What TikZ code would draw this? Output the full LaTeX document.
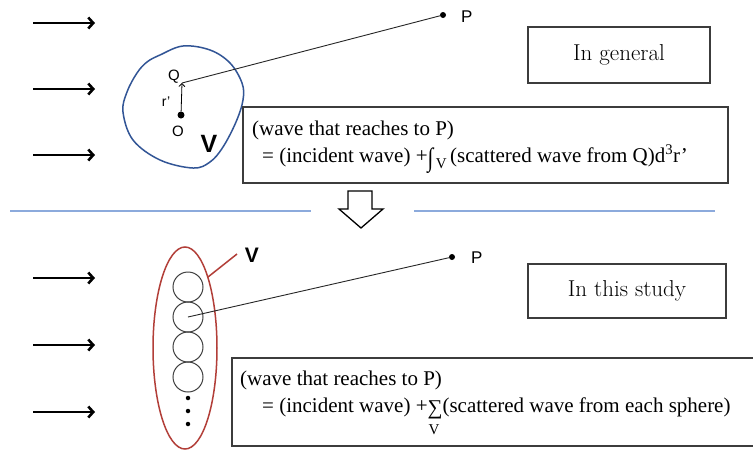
\documentclass[tikz,border=0pt]{standalone}
\usepackage{fontspec}
\usepackage{graphicx}
\newfontfamily\tnr{Liberation Serif}
\newfontfamily\arl{Liberation Sans}
\usetikzlibrary{arrows.meta}
\definecolor{blobblue}{RGB}{50,85,150}
\definecolor{ellred}{RGB}{178,62,56}
\definecolor{seplight}{RGB}{140,170,220}
\definecolor{boxgray}{RGB}{60,60,60}
\tikzset{
  inarrow/.style={line width=2.2pt,-{Straight Barb[length=5pt,width=11pt,line width=2.6pt]}},
  framebox/.style={draw=boxgray,line width=1.2pt,fill=white},
  labelbox/.style={framebox,font=\fontsize{23}{27}\selectfont,inner sep=0pt},
  formula/.style={font=\tnr\fontsize{21}{25}\selectfont,anchor=base west,inner sep=0pt},
  sanslbl/.style={font=\arl\fontsize{15}{18}\selectfont,inner sep=0pt},
  pdot/.style={circle,fill=black,inner sep=0pt,minimum size=6pt},
  sphere/.style={circle,draw=black!75,line width=1pt,minimum size=30pt,inner sep=0pt},
  ray/.style={line width=0.9pt,black!85}
}
\begin{document}
\begin{tikzpicture}[x=1pt,y=-1pt]
\clip (0,0) rectangle (753,451);
\fill[white] (0,0) rectangle (753,451);

% incoming arrows
\foreach \i/\y in {1/23,2/89,3/155,4/278,5/345,6/412}{
  \coordinate (as\i) at (33,\y);
  \coordinate (ae\i) at (95,\y);
  \draw[inarrow] (as\i) -- (ae\i);
}

% ---------- top part ----------
\draw[blobblue,line width=1.5pt] plot[smooth cycle,tension=0.6] coordinates {
 (160,55) (183,46) (210,50) (230,63) (242,83) (243,100) (236,122)
 (223,147) (210,162) (193,168) (160,160) (133,140) (123,112) (127,92) (137,73) (147,62)};

\node[pdot] (P1) at (443,15) {};
\node[sanslbl,font=\arl\fontsize{17}{20}\selectfont,anchor=west] (P1l) at (461,17) {P};
\coordinate (Q) at (182,83);
\node[pdot,minimum size=7pt] (O) at (181,115) {};
\draw[ray] (Q) -- (P1);
\draw[line width=0.8pt,-{Straight Barb[length=3pt,width=6pt]}] (O) -- (Q);
\node[sanslbl] (Ql) at (174,77) {Q};
\node[sanslbl,font=\arl\fontsize{14}{16}\selectfont] (rl) at (166,102) {r’};
\node[sanslbl] (Ol) at (178,131) {O};
\node[font=\arl\bfseries\fontsize{25}{30}\selectfont,inner sep=0pt] (V1) at (209,144) {V};

\node[labelbox,minimum width=182pt,minimum height=56pt] (gen) at (619,55) {In general};

\draw[framebox] (243,107) rectangle (728,183);
\node[formula] (f1a) at (252,135) {(wave that reaches to P)};
\node[formula] (f1b) at (262,162) {= (incident wave) +\raisebox{-4pt}{\scalebox{1}[1.25]{∫}}\raisebox{-6pt}{\fontsize{15}{18}\selectfont\,V}\,(scattered wave from Q)d\textsuperscript{3}r’};

% ---------- separator ----------
\coordinate (s1) at (10,211); \coordinate (s2) at (311,211);
\coordinate (s3) at (414,211); \coordinate (s4) at (715,211);
\draw[seplight,line width=1.3pt] (s1) -- (s2);
\draw[seplight,line width=1.3pt] (s3) -- (s4);
\draw[line width=1.3pt,line join=miter] (348,191) -- (372,191) -- (372,209) -- (383,209)
  -- (361,228) -- (339,209) -- (348,209) -- cycle;

% ---------- bottom part ----------
\draw[ellred,line width=1.5pt] (185,348) ellipse [x radius=32,y radius=101];
\foreach \i/\y in {1/287,2/317,3/347,4/377}{
  \node[sphere] (c\i) at (188,\y) {};
}
\foreach \i/\y in {1/398,2/411,3/424}{
  \node[circle,fill=black,inner sep=0pt,minimum size=4.5pt] (d\i) at (188,\y) {};
}
\node[pdot] (P2) at (452,257) {};
\node[sanslbl,font=\arl\fontsize{17}{20}\selectfont,anchor=west] (P2l) at (471,258) {P};
\draw[ray] (c2.center) -- (P2);
\node[font=\arl\bfseries\fontsize{21}{25}\selectfont,inner sep=0pt] (V2) at (252,255) {V};
\coordinate (vl1) at (208,277); \coordinate (vl2) at (237,254);
\draw[ellred,line width=1.5pt] (vl1) -- (vl2);

\node[labelbox,minimum width=198pt,minimum height=54pt] (study) at (627,291) {In this study};

\draw[framebox] (232,358) rectangle (770,446);
\node[formula] (f2a) at (240,385) {(wave that reaches to P)};
\node[formula] (f2b) at (262,412) {= (incident wave) +\raisebox{-2pt}{∑}\llap{\raisebox{-22pt}{\fontsize{15}{18}\selectfont V\hspace{3pt}}}(scattered wave from each sphere)};
\end{tikzpicture}
\end{document}
